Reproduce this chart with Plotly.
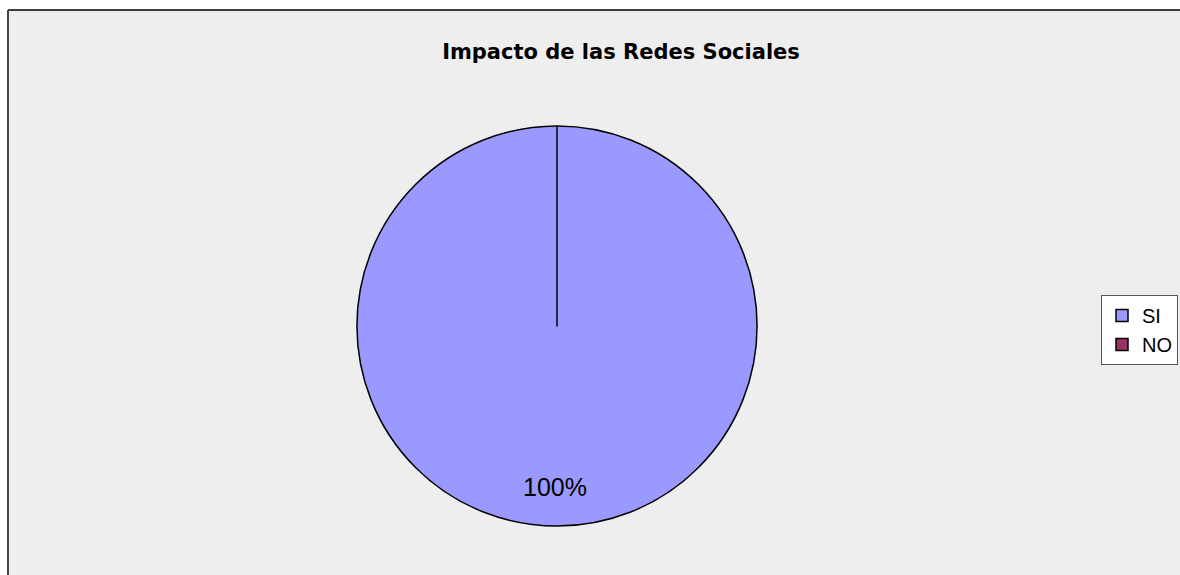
import plotly.graph_objects as go

# Survey answers
labels = ["SI", "NO"]
values = [100, 0]
colors = ["#9999ff", "#993366"]

W, H = 1180, 575

total = sum(values)
pct_text = f"{round(values[0] / total * 100)}%"

fig = go.Figure()
fig.add_trace(go.Pie(
    labels=labels,
    values=values,
    sort=False,
    direction="clockwise",
    rotation=0,
    marker=dict(colors=colors, line=dict(color="#000000", width=1.5)),
    textinfo="none",
    hoverinfo="label+percent",
    domain=dict(x=[357 / W, 757 / W], y=[1 - 526 / H, 1 - 126 / H]),
    showlegend=True,
))

# Percentage label placed in the lower part of the dominant slice
fig.add_annotation(
    x=555 / W, y=1 - 487 / H, xref="paper", yref="paper",
    xanchor="center", yanchor="middle",
    text=pct_text, showarrow=False,
    font=dict(family="Liberation Sans, Arial, sans-serif", size=25, color="#000000"),
)

# Chart area background with top/left frame edges
fig.add_shape(type="rect", xref="paper", yref="paper",
              x0=8 / W, x1=1.0, y0=0.0, y1=1 - 10 / H,
              fillcolor="#eeeeee", line=dict(width=0), layer="below")
fig.add_shape(type="line", xref="paper", yref="paper",
              x0=8 / W, x1=1.0, y0=1 - 10 / H, y1=1 - 10 / H,
              line=dict(color="#000000", width=1.5))
fig.add_shape(type="line", xref="paper", yref="paper",
              x0=8 / W, x1=8 / W, y0=0.0, y1=1 - 10 / H,
              line=dict(color="#444444", width=2))

fig.update_layout(
    width=W, height=H,
    margin=dict(l=0, r=0, t=0, b=0),
    paper_bgcolor="#ffffff",
    plot_bgcolor="#ffffff",
    title=dict(
        text="<b>Impacto de las Redes Sociales</b>",
        x=621 / W, xanchor="center", y=1 - 52 / H, yanchor="middle",
        font=dict(family="DejaVu Sans, sans-serif", size=21, color="#000000"),
    ),
    legend=dict(
        x=1101 / W, xanchor="left", y=1 - 295 / H, yanchor="top",
        bgcolor="#ffffff", bordercolor="#555555", borderwidth=1,
        font=dict(family="Liberation Sans, Arial, sans-serif", size=20, color="#000000"),
        itemwidth=30, tracegroupgap=0,
    ),
)

fig.write_html("out.html")
